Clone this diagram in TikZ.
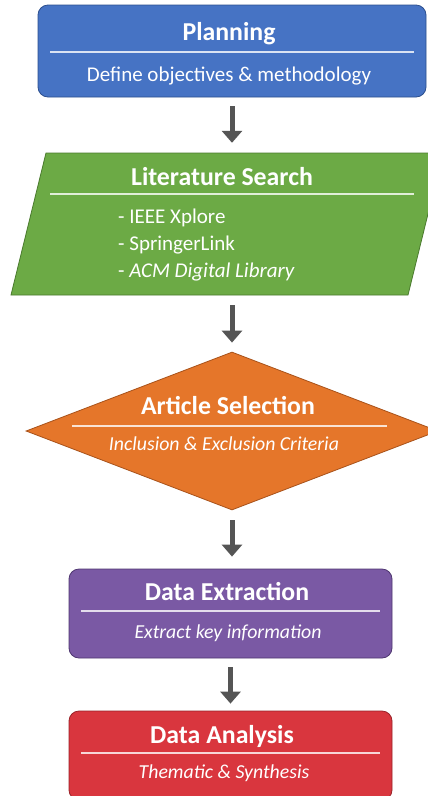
\documentclass[tikz,border=0pt]{standalone}
\usepackage{fontspec}
\setmainfont{Carlito}
\usetikzlibrary{arrows.meta,shapes.geometric}
\definecolor{cblue}{HTML}{4673C4}
\definecolor{cblueD}{HTML}{2C4F8E}
\definecolor{cgreen}{HTML}{6CAA45}
\definecolor{cgreenD}{HTML}{4A7A2E}
\definecolor{corange}{HTML}{E5762A}
\definecolor{corangeD}{HTML}{A8521A}
\definecolor{cpurple}{HTML}{7A59A4}
\definecolor{cpurpleD}{HTML}{4E3670}
\definecolor{cred}{HTML}{D9363E}
\definecolor{credD}{HTML}{9A2228}
\definecolor{carrow}{HTML}{555555}
\tikzset{
  shapebox/.style={rectangle, rounded corners=10pt, line width=0.8pt, inner sep=0pt},
  ghost/.style={rectangle, inner sep=0pt},
  ttl/.style={text=white, font=\fontsize{25.8}{29}\selectfont\bfseries, anchor=base, inner sep=0pt},
  sub/.style={text=white, font=\fontsize{21}{25}\selectfont, anchor=base, inner sep=0pt},
  subit/.style={sub, font=\fontsize{19.8}{24}\selectfont\itshape},
  item/.style={text=white, font=\fontsize{21}{25}\selectfont, anchor=base west, inner sep=0pt},
  sep/.style={white, opacity=0.8, line width=1.3pt},
  flow/.style={carrow, line width=5pt, -{Triangle[width=20pt,length=12pt]}}
}
\begin{document}
\begin{tikzpicture}[x=1pt,y=-1pt]
\useasboundingbox[fill=white] (0,0) rectangle (428,796);
% Planning
\node[shapebox, fill=cblue, draw=cblueD, minimum width=388pt, minimum height=92pt] (plan) at (232,51) {};
\node[ttl] (planT) at (229,40) {Planning};
\draw[sep] (50,52) -- (414,52);
\node[sub] (planS) at (229,81) {Define objectives \& methodology};
% Literature search
\node[ghost, minimum width=360pt, minimum height=142pt] (lit) at (232,224) {};
\draw[fill=cgreen, draw=cgreenD, line width=0.8pt] (46,153) -- (443,153) -- (408,295) -- (11,295) -- cycle;
\node[ttl] (litT) at (222,185) {Literature Search};
\draw[sep] (50,194) -- (414,194);
\node[item] (l1) at (118,223) {- IEEE Xplore};
\node[item] (l2) at (118,250) {- SpringerLink};
\node[item] (l3) at (118,277) {- \textit{ACM Digital Library}};
% Article selection
\node[diamond, fill=corange, draw=corangeD, line width=0.8pt, inner sep=0pt, minimum width=412pt, minimum height=158pt] (sel) at (232,431) {};
\node[ttl] (selT) at (228,414) {Article Selection};
\draw[sep] (72,426) -- (387,426);
\node[subit] (selS) at (224,450) {Inclusion \& Exclusion Criteria};
% Data extraction
\node[shapebox, fill=cpurple, draw=cpurpleD, minimum width=323pt, minimum height=89pt] (ext) at (230.5,613.5) {};
\node[ttl] (extT) at (227,600) {Data Extraction};
\draw[sep] (81,611) -- (380,611);
\node[subit] (extS) at (228,638) {Extract key information};
% Data analysis
\node[shapebox, fill=cred, draw=credD, minimum width=323pt, minimum height=89pt] (ana) at (230.5,755.5) {};
\node[ttl] (anaT) at (222,743) {Data Analysis};
\draw[sep] (81,753) -- (380,753);
\node[subit] (anaS) at (224,778) {Thematic \& Synthesis};
% connectors
\draw[flow, shorten <=9pt, shorten >=10pt] (plan.south) -- (lit.north);
\draw[flow, shorten <=10pt, shorten >=9pt] (lit.south) -- (sel.north);
\draw[flow, shorten <=10pt, shorten >=12pt] (sel.south) -- (sel.south |- ext.north);
\draw[flow, shorten <=9pt, shorten >=7pt] (ext.south) -- (ana.north);
\end{tikzpicture}
\end{document}
